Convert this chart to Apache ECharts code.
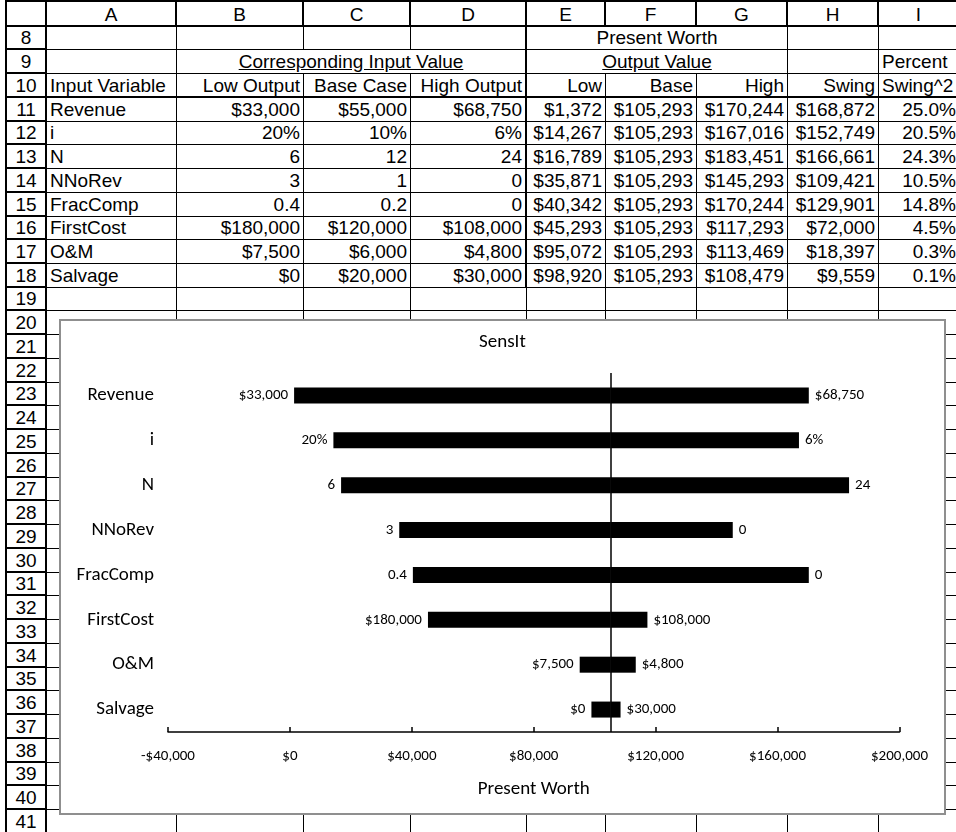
<!DOCTYPE html>
<html>
<head>
<meta charset="utf-8">
<title>SensIt</title>
<script src="https://cdn.jsdelivr.net/npm/echarts@6/dist/echarts.min.js"></script>
<style>
  html, body { margin: 0; padding: 0; background: #fff; }
  #sheet {
    position: relative; width: 956px; height: 832px; overflow: hidden;
    font-family: "Liberation Sans", Arial, sans-serif; font-size: 19px; color: #000;
  }
  .c {
    position: absolute; box-sizing: border-box;
    border-right: 1px solid #000; border-bottom: 1px solid #000;
    white-space: nowrap; padding: 0 3px; overflow: hidden;
  }
  .l { text-align: left; }
  .r { text-align: right; }
  .m { text-align: center; }
  .u { text-decoration: underline; }
  .hd { border-right-width: 2px; border-bottom-width: 2px; }
  .rh { border-left: 2px solid #000; border-right-width: 2px; border-bottom-width: 2px; text-align: center; padding: 0; }
  #chartBox {
    position: absolute; left: 59px; top: 319px; width: 887px; height: 496px;
    box-sizing: border-box; border: 2px solid #8f8f8f; background: #fff; z-index: 5;
  }
  #chart { position: absolute; left: 0; top: 0; width: 956px; height: 832px; z-index: 6; }
</style>
</head>
<body>
<div id="sheet">
  <div id="chartBox"></div>
  <div id="chart"></div>
</div>
<script>
// ---- Sensitivity data ----
const categories = ['Revenue', 'i', 'N', 'NNoRev', 'FracComp', 'FirstCost', 'O&M', 'Salvage'];
const lowInput   = ['$33,000', '20%', '6', '3', '0.4', '$180,000', '$7,500', '$0'];
const baseInput  = ['$55,000', '10%', '12', '1', '0.2', '$120,000', '$6,000', '$20,000'];
const highInput  = ['$68,750', '6%', '24', '0', '0', '$108,000', '$4,800', '$30,000'];
const lowPW      = [1372, 14267, 16789, 35871, 40342, 45293, 95072, 98920];
const basePW     = [105293, 105293, 105293, 105293, 105293, 105293, 105293, 105293];
const highPW     = [170244, 167016, 183451, 145293, 170244, 117293, 113469, 108479];
const swing      = [168872, 152749, 166661, 109421, 129901, 72000, 18397, 9559];
const swingSqPct = [25.0, 20.5, 24.3, 10.5, 14.8, 4.5, 0.3, 0.1];

// Sheet headings
const colLetters   = ['A', 'B', 'C', 'D', 'E', 'F', 'G', 'H', 'I'];
const inputHeads   = ['Low Output', 'Base Case', 'High Output'];
const outputHeads  = ['Low', 'Base', 'High'];

// Axis ticks for the tornado chart
const xMin = -40000, xMax = 200000, xStep = 40000;

function money(v) {
  return (v < 0 ? '-$' : '$') + Math.abs(v).toLocaleString('en-US');
}

// ---- Worksheet grid ----
const sheet = document.getElementById('sheet');
const colX = [5, 47, 177, 304, 411, 527, 606, 697, 788, 879, 960];
const firstRow = 8, lastRow = 41;
const rowTop = r => Math.round(26.6 + (r - firstRow) * 23.74);

function place(x0, y0, x1, y1, text, cls, style) {
  const d = document.createElement('div');
  d.className = 'c ' + (cls || '');
  d.style.left = x0 + 'px';
  d.style.top = y0 + 'px';
  d.style.width = (x1 - x0) + 'px';
  d.style.height = (y1 - y0) + 'px';
  d.style.lineHeight = (y1 - y0 - 1) + 'px';
  if (style) Object.assign(d.style, style);
  d.textContent = text || '';
  sheet.insertBefore(d, sheet.firstChild);
}

// column-letter header row
place(colX[0], 0, colX[1], rowTop(firstRow), '', 'hd', { borderTop: '2px solid #000', borderLeft: '2px solid #000' });
colLetters.forEach((L, i) => {
  place(colX[i + 1], 0, colX[i + 2], rowTop(firstRow), L, 'hd m', { borderTop: '2px solid #000' });
});

// contents per row: list of [firstCol, lastCol, text, classes]
function rowCells(r) {
  const blank = (a, b) => [a, b, '', ''];
  if (r === 8)  return [blank(0, 0), blank(1, 1), blank(2, 2), blank(3, 3), [4, 6, 'Present Worth', 'm'], blank(7, 7), blank(8, 8)];
  if (r === 9)  return [blank(0, 0), [1, 3, 'Corresponding Input Value', 'm u'], [4, 6, 'Output Value', 'm u'], blank(7, 7), [8, 8, 'Percent', 'l']];
  if (r === 10) return [[0, 0, 'Input Variable', 'l'],
                        [1, 1, inputHeads[0], 'r'], [2, 2, inputHeads[1], 'r'], [3, 3, inputHeads[2], 'r'],
                        [4, 4, outputHeads[0], 'r'], [5, 5, outputHeads[1], 'r'], [6, 6, outputHeads[2], 'r'],
                        [7, 7, 'Swing', 'r'], [8, 8, 'Swing^2', 'l']];
  const k = r - 11;
  if (k >= 0 && k < categories.length) {
    return [[0, 0, categories[k], 'l'],
            [1, 1, lowInput[k], 'r'], [2, 2, baseInput[k], 'r'], [3, 3, highInput[k], 'r'],
            [4, 4, money(lowPW[k]), 'r'], [5, 5, money(basePW[k]), 'r'], [6, 6, money(highPW[k]), 'r'],
            [7, 7, money(swing[k]), 'r'], [8, 8, swingSqPct[k].toFixed(1) + '%', 'r']];
  }
  return colLetters.map((_, i) => blank(i, i));
}

for (let r = firstRow; r <= lastRow; r++) {
  const y0 = rowTop(r), y1 = rowTop(r + 1);
  place(colX[0], y0, colX[1], y1, String(r), 'rh');
  rowCells(r).forEach(([a, b, text, cls]) => {
    const style = {};
    if (b === 3 && r <= 18) style.borderRight = '2px solid #000';
    if (r === 10) style.borderBottom = '2px solid #000';
    place(colX[a + 1], y0, colX[b + 2], y1, text, cls, style);
  });
}

// ---- Tornado chart ----
const chartFont = 'Carlito, Lato, "Open Sans", sans-serif';
const chart = echarts.init(document.getElementById('chart'), null, { renderer: 'canvas' });

const labelStyle = { fontFamily: chartFont, fontSize: 15, color: '#000' };

chart.setOption({
  animation: false,
  title: {
    text: 'SensIt', left: 479, top: 333, padding: 0,
    textStyle: { fontFamily: chartFont, fontSize: 19, fontWeight: 'normal', color: '#000' }
  },
  grid: { left: 168, right: 56.5, top: 373, bottom: 100, containLabel: false },
  xAxis: {
    type: 'value', min: xMin, max: xMax, interval: xStep,
    axisLine: { show: true, lineStyle: { color: '#000', width: 1.5 } },
    axisTick: { show: true, inside: true, length: 5, lineStyle: { color: '#000', width: 1.5 } },
    axisLabel: Object.assign({ formatter: money, margin: 17 }, labelStyle),
    splitLine: { show: false },
    name: 'Present Worth', nameLocation: 'middle', nameGap: 48,
    nameTextStyle: { fontFamily: chartFont, fontSize: 19, color: '#000' }
  },
  yAxis: {
    type: 'category', data: categories, inverse: true,
    axisLine: { show: false }, axisTick: { show: false }, splitLine: { show: false },
    axisLabel: { fontFamily: chartFont, fontSize: 19, color: '#000', margin: 14 }
  },
  series: [
    {
      name: 'offset', type: 'bar', stack: 'pw', barWidth: 16, silent: true,
      itemStyle: { color: 'rgba(0,0,0,0)' },
      data: lowPW
    },
    {
      name: 'low side', type: 'bar', stack: 'pw', barWidth: 16,
      itemStyle: { color: '#000' },
      label: Object.assign({ show: true, position: 'left', distance: 6,
                             formatter: p => lowInput[p.dataIndex] }, labelStyle),
      data: lowPW.map((v, i) => basePW[i] - v),
      markLine: {
        silent: true, symbol: ['none', 'none'], label: { show: false },
        lineStyle: { color: '#000', width: 1.5, type: 'solid' },
        data: [{ xAxis: basePW[0] }]
      }
    },
    {
      name: 'high side', type: 'bar', stack: 'pw', barWidth: 16,
      itemStyle: { color: '#000' },
      label: Object.assign({ show: true, position: 'right', distance: 6,
                             formatter: p => highInput[p.dataIndex] }, labelStyle),
      data: highPW.map((v, i) => v - basePW[i])
    }
  ]
});
</script>
</body>
</html>
